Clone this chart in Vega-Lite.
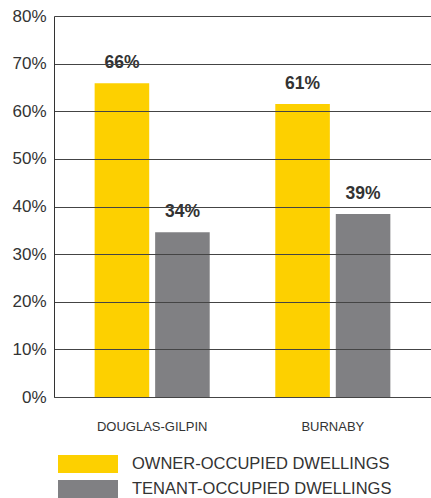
{
  "$schema": "https://vega.github.io/schema/vega-lite/v6.json",
  "width": 377,
  "height": 381,
  "autosize": {"type": "none"},
  "padding": {"left": 54, "top": 16, "right": 0, "bottom": 101},
  "background": "white",
  "config": {
    "view": {"stroke": null},
    "font": "Liberation Sans"
  },
  "data": {
    "values": [
      {"area": "DOUGLAS-GILPIN", "type": "OWNER-OCCUPIED DWELLINGS", "value": 65.9, "label": "66%"},
      {"area": "DOUGLAS-GILPIN", "type": "TENANT-OCCUPIED DWELLINGS", "value": 34.6, "label": "34%"},
      {"area": "BURNABY", "type": "OWNER-OCCUPIED DWELLINGS", "value": 61.5, "label": "61%"},
      {"area": "BURNABY", "type": "TENANT-OCCUPIED DWELLINGS", "value": 38.4, "label": "39%"}
    ]
  },
  "encoding": {
    "x": {
      "field": "area",
      "type": "nominal",
      "sort": ["DOUGLAS-GILPIN", "BURNABY"],
      "scale": {"paddingInner": 0.363, "paddingOuter": 0.225},
      "axis": {
        "title": null,
        "labelAngle": 0,
        "ticks": false,
        "domain": true,
        "domainColor": "#333333",
        "domainWidth": 1,
        "labelPadding": 23,
        "labelFontSize": 13,
        "labelColor": "#333333",
        "labelFont": "Liberation Sans"
      }
    },
    "xOffset": {
      "field": "type",
      "type": "nominal",
      "sort": ["OWNER-OCCUPIED DWELLINGS", "TENANT-OCCUPIED DWELLINGS"],
      "scale": {"paddingInner": 0.098, "paddingOuter": 0}
    },
    "y": {
      "field": "value",
      "type": "quantitative",
      "scale": {"domain": [0, 80], "nice": false},
      "axis": {
        "title": null,
        "values": [0, 10, 20, 30, 40, 50, 60, 70, 80],
        "labelExpr": "datum.value + '%'",
        "ticks": false,
        "domain": true,
        "domainColor": "#333333",
        "domainWidth": 1,
        "grid": true,
        "gridColor": "#444444",
        "gridWidth": 1,
        "gridOpacity": 1,
        "zindex": 1,
        "labelPadding": 8,
        "labelFontSize": 17,
        "labelColor": "#333333",
        "labelFont": "Liberation Sans"
      }
    }
  },
  "layer": [
    {
      "mark": {"type": "bar"},
      "encoding": {
        "color": {
          "field": "type",
          "type": "nominal",
          "sort": ["OWNER-OCCUPIED DWELLINGS", "TENANT-OCCUPIED DWELLINGS"],
          "scale": {
            "domain": ["OWNER-OCCUPIED DWELLINGS", "TENANT-OCCUPIED DWELLINGS"],
            "range": ["#FDD000", "#808083"]
          },
          "legend": {
            "title": null,
            "orient": "none",
            "legendX": 25,
            "legendY": 439,
            "padding": 0,
            "rowPadding": 7,
            "symbolType": "M-3.333,-1H3.333V1H-3.333Z",
            "symbolSize": 324,
            "symbolStrokeWidth": 0,
            "symbolOpacity": 1,
            "labelFontSize": 16.5,
            "labelFont": "Liberation Sans",
            "labelColor": "#333333",
            "labelOffset": 35,
            "labelLimit": 400
          }
        }
      }
    },
    {
      "mark": {
        "type": "text",
        "dy": -15,
        "baseline": "alphabetic",
        "align": "center",
        "fontSize": 17.5,
        "fontWeight": "bold",
        "font": "Liberation Sans",
        "color": "#333333"
      },
      "encoding": {
        "text": {"field": "label", "type": "nominal"}
      }
    }
  ]
}
